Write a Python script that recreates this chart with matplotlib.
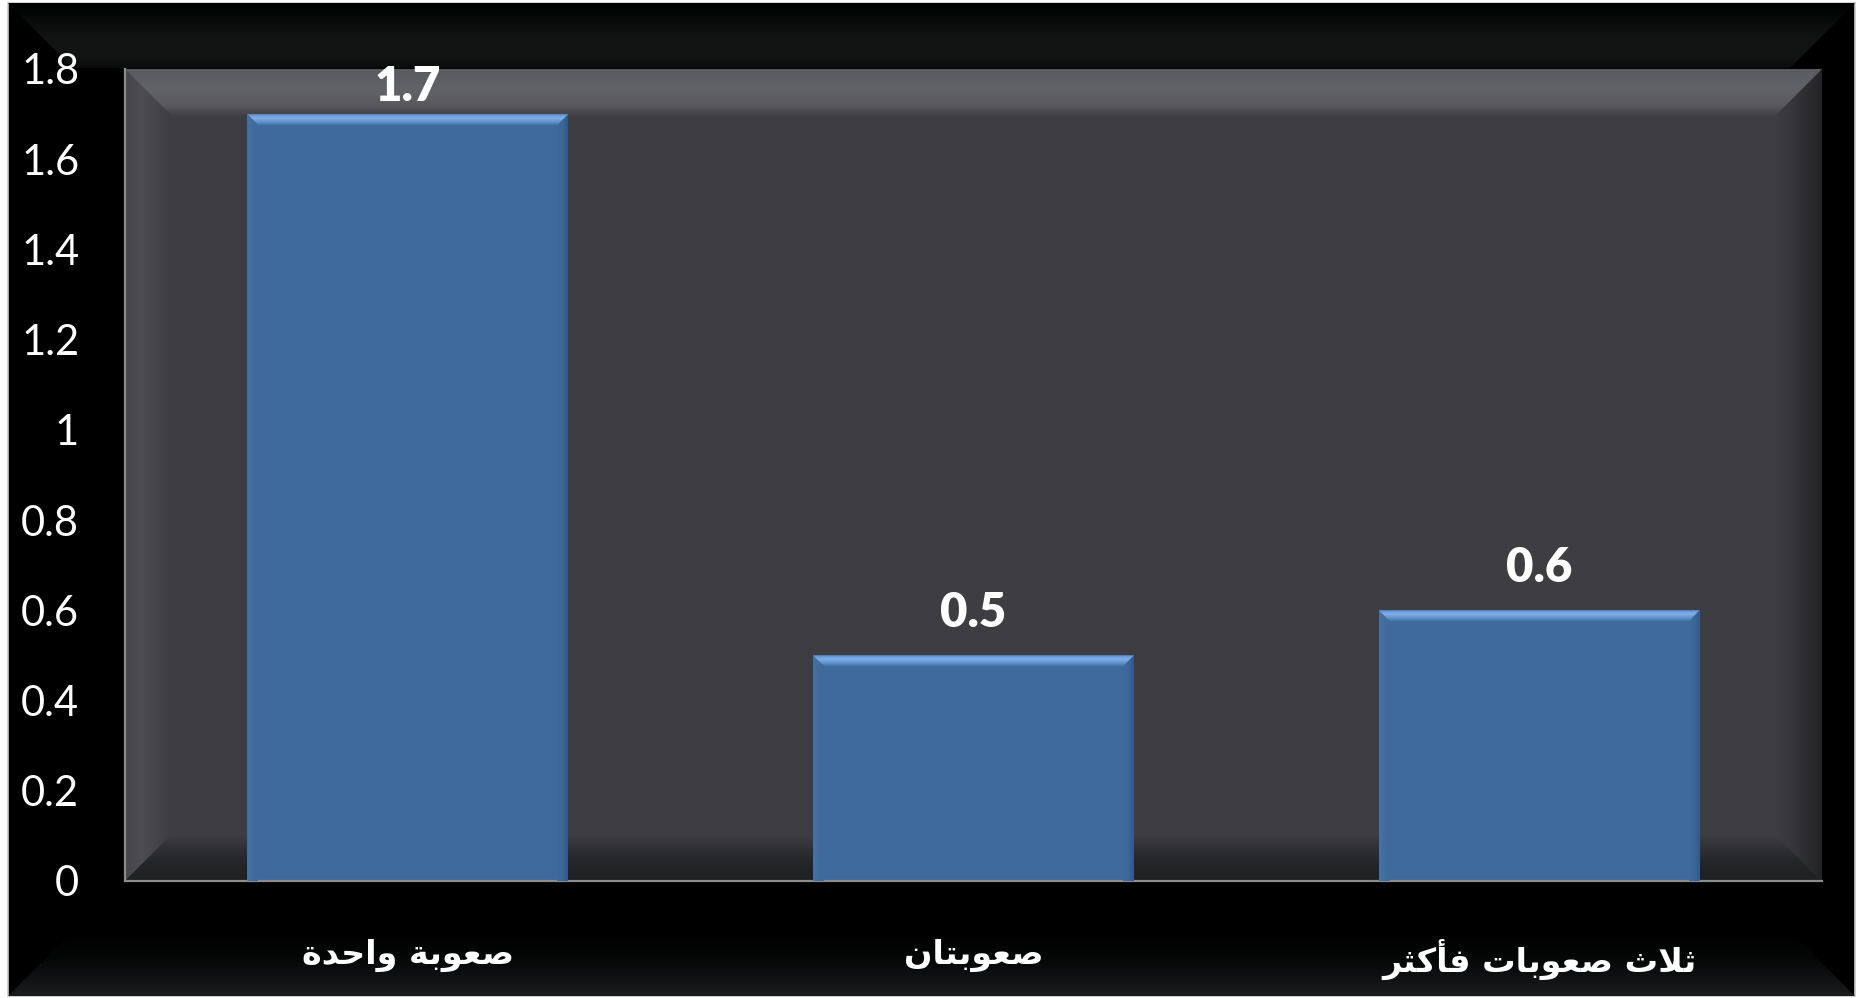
import numpy as np
import matplotlib
matplotlib.use('Agg')
import matplotlib.pyplot as plt
from matplotlib.patches import Polygon, Rectangle
from matplotlib.colors import to_rgb

# ---------------- data ----------------
categories = ['صعوبة واحدة', 'صعوبتان', 'ثلاث صعوبات فأكثر']
values = [1.7, 0.5, 0.6]
value_labels = ['1.7', '0.5', '0.6']
y_ticks = [0, 0.2, 0.4, 0.6, 0.8, 1.0, 1.2, 1.4, 1.6, 1.8]
y_tick_labels = ['0', '0.2', '0.4', '0.6', '0.8', '1', '1.2', '1.4', '1.6', '1.8']

# ---------------- minimal Arabic shaping (contextual forms + RTL) ----------------
_AR = {
    'ا': ('\uFE8D', '\uFE8E', None, None),
    'أ': ('\uFE83', '\uFE84', None, None),
    'ب': ('\uFE8F', '\uFE90', '\uFE91', '\uFE92'),
    'ة': ('\uFE93', '\uFE94', None, None),
    'ت': ('\uFE95', '\uFE96', '\uFE97', '\uFE98'),
    'ث': ('\uFE99', '\uFE9A', '\uFE9B', '\uFE9C'),
    'ح': ('\uFEA1', '\uFEA2', '\uFEA3', '\uFEA4'),
    'د': ('\uFEA9', '\uFEAA', None, None),
    'ر': ('\uFEAD', '\uFEAE', None, None),
    'ص': ('\uFEB9', '\uFEBA', '\uFEBB', '\uFEBC'),
    'ع': ('\uFEC9', '\uFECA', '\uFECB', '\uFECC'),
    'ف': ('\uFED1', '\uFED2', '\uFED3', '\uFED4'),
    'ك': ('\uFED9', '\uFEDA', '\uFEDB', '\uFEDC'),
    'ل': ('\uFEDD', '\uFEDE', '\uFEDF', '\uFEE0'),
    'ن': ('\uFEE5', '\uFEE6', '\uFEE7', '\uFEE8'),
    'و': ('\uFEED', '\uFEEE', None, None),
}
_LA = {'ا': ('\uFEFB', '\uFEFC'), 'أ': ('\uFEF7', '\uFEF8')}


def shape_ar(text):
    toks = []
    i = 0
    while i < len(text):
        ch = text[i]
        if ch == 'ل' and i + 1 < len(text) and text[i + 1] in _LA:
            iso, fin = _LA[text[i + 1]]
            toks.append((iso, fin, None, None))
            i += 2
            continue
        toks.append(_AR.get(ch, ch))
        i += 1
    out = []
    for k, t in enumerate(toks):
        if isinstance(t, str):
            out.append(t)
            continue
        prev = toks[k - 1] if k > 0 else None
        nxt = toks[k + 1] if k + 1 < len(toks) else None
        jp = isinstance(prev, tuple) and prev[2] is not None
        jn = t[2] is not None and isinstance(nxt, tuple)
        if jp and jn:
            out.append(t[3])
        elif jp:
            out.append(t[1])
        elif jn:
            out.append(t[2])
        else:
            out.append(t[0])
    return ''.join(reversed(out))


# ---------------- figure ----------------
W, H = 1860, 998
fig = plt.figure(figsize=(W / 100, H / 100), dpi=100, facecolor='white')

bg = fig.add_axes([0, 0, 1, 1], zorder=0)
bg.set_axis_off()
bg.set_xlim(0, W)
bg.set_ylim(H, 0)


def grad_poly(axis, verts, stops, vertical=True, zorder=1):
    verts = np.asarray(verts, float)
    poly = Polygon(verts, closed=True, fc='none', ec='none', zorder=zorder)
    axis.add_patch(poly)
    x0, x1 = verts[:, 0].min(), verts[:, 0].max()
    y0, y1 = verts[:, 1].min(), verts[:, 1].max()
    t = np.linspace(0, 1, 256)
    pos = [s[0] for s in stops]
    cols = np.array([to_rgb(s[1]) for s in stops])
    rgb = np.stack([np.interp(t, pos, cols[:, k]) for k in range(3)], axis=-1)
    img = rgb[:, None, :] if vertical else rgb[None, :, :]
    im = axis.imshow(img, extent=(x0, x1, y1, y0), origin='upper',
                     aspect='auto', interpolation='bilinear', zorder=zorder)
    im.set_clip_path(poly)
    return im


# outer chart frame
FL, FR, FT, FB = 8, 1855, 3, 996
bw = 65
bg.add_patch(Rectangle((FL, FT), FR - FL, FB - FT, fc='black', ec='#c8c8c8', lw=1.2, zorder=0.5))
grad_poly(bg, [(FL, FT), (FR, FT), (FR - bw, FT + bw), (FL + bw, FT + bw)],
          [(0, '#000000'), (0.3, '#0a0b0b'), (0.55, '#131515'), (0.85, '#121414'), (1, '#0a0b0b')], True, 0.6)
grad_poly(bg, [(FL, FB), (FR, FB), (FR - bw, FB - bw), (FL + bw, FB - bw)],
          [(0, '#000000'), (0.45, '#060707'), (1, '#1b1c1e')], True, 0.6)

# plot area with bevel
PL, PR, PT, PB = 125, 1822, 69, 881
pb = 46
bg.add_patch(Rectangle((PL, PT), PR - PL, PB - PT, fc='#3e3d42', ec='none', zorder=1))
grad_poly(bg, [(PL, PT), (PR, PT), (PR - pb, PT + pb), (PL + pb, PT + pb)],
          [(0, '#5a5b60'), (0.45, '#626368'), (0.8, '#58585d'), (1, '#424146')], True, 1.2)
grad_poly(bg, [(PL, PT), (PL + pb, PT + pb), (PL + pb, PB - pb), (PL, PB)],
          [(0, '#46464b'), (0.35, '#4d4d52'), (1, '#3e3d42')], False, 1.1)
grad_poly(bg, [(PR, PT), (PR - pb, PT + pb), (PR - pb, PB - pb), (PR, PB)],
          [(0, '#3e3d42'), (0.3, '#38383c'), (1, '#242426')], False, 1.1)
grad_poly(bg, [(PL, PB), (PR, PB), (PR - pb, PB - pb), (PL + pb, PB - pb)],
          [(0, '#3e3d42'), (0.3, '#303034'), (0.6, '#242628'), (1, '#1e2022')], True, 1.2)

# ---------------- main axes (data) ----------------
ax = fig.add_axes([PL / W, (H - PB) / H, (PR - PL) / W, (PB - PT) / H], zorder=2)
ax.patch.set_visible(False)
x = np.arange(len(categories))
bars = ax.bar(x, values, width=0.567, color='#3e6a9c', edgecolor='none', zorder=3)
ax.set_xlim(-0.5, len(categories) - 0.5)
ax.set_ylim(0, 1.8)

ax.set_yticks(y_ticks, y_tick_labels)
ax.set_xticks(x, [shape_ar(c) for c in categories])
ax.tick_params(axis='y', length=0, pad=33, labelsize=30, labelcolor='white')
ax.tick_params(axis='x', length=0, pad=42, labelsize=24, labelcolor='white')
for lab in ax.get_yticklabels():
    lab.set_fontfamily(['Lato', 'DejaVu Sans'])
for lab in ax.get_xticklabels():
    lab.set_fontfamily(['DejaVu Sans'])
    lab.set_fontweight('bold')

for s in ['top', 'right']:
    ax.spines[s].set_visible(False)
for s in ['left', 'bottom']:
    ax.spines[s].set_color('#8c8c8c')
    ax.spines[s].set_linewidth(1.6)
    ax.spines[s].set_zorder(4)

# data labels
ymax = ax.get_ylim()[1]
for xi, v, lbl in zip(x, values, value_labels):
    yc = min(v + 0.093, ymax - 0.04)
    ax.text(xi, yc, lbl, ha='center', va='center', color='white', fontsize=34,
            fontweight='heavy', family=['Lato', 'DejaVu Sans'], zorder=5)

# ---------------- bar bevels (overlay, derived from bar geometry) ----------------
ov = fig.add_axes([0, 0, 1, 1], zorder=3)
ov.set_axis_off()
ov.patch.set_visible(False)
ov.set_xlim(0, W)
ov.set_ylim(H, 0)

bb = 11
for rect in bars:
    (dx0, dy0), (dx1, dy1) = ax.transData.transform(
        [(rect.get_x(), rect.get_y()), (rect.get_x() + rect.get_width(), rect.get_y() + rect.get_height())])
    L, R = dx0, dx1
    B, T = H - dy0, H - dy1
    grad_poly(ov, [(L, T), (R, T), (R - bb, T + bb), (L + bb, T + bb)],
              [(0, '#5b8ac4'), (0.35, '#80b1ea'), (0.7, '#6494cf'), (1, '#44729f')], True, 2)
    grad_poly(ov, [(R, T), (R - bb, T + bb), (R - bb, B), (R, B)],
              [(0, '#3e6a9c'), (0.6, '#3b6597'), (1, '#2f5686')], False, 1.9)
    grad_poly(ov, [(L, T), (L + bb, T + bb), (L + bb, B), (L, B)],
              [(0, '#4673a6'), (0.5, '#406c9e'), (1, '#3e6a9c')], False, 1.9)

fig.savefig('out.png', dpi=100, facecolor=fig.get_facecolor())
